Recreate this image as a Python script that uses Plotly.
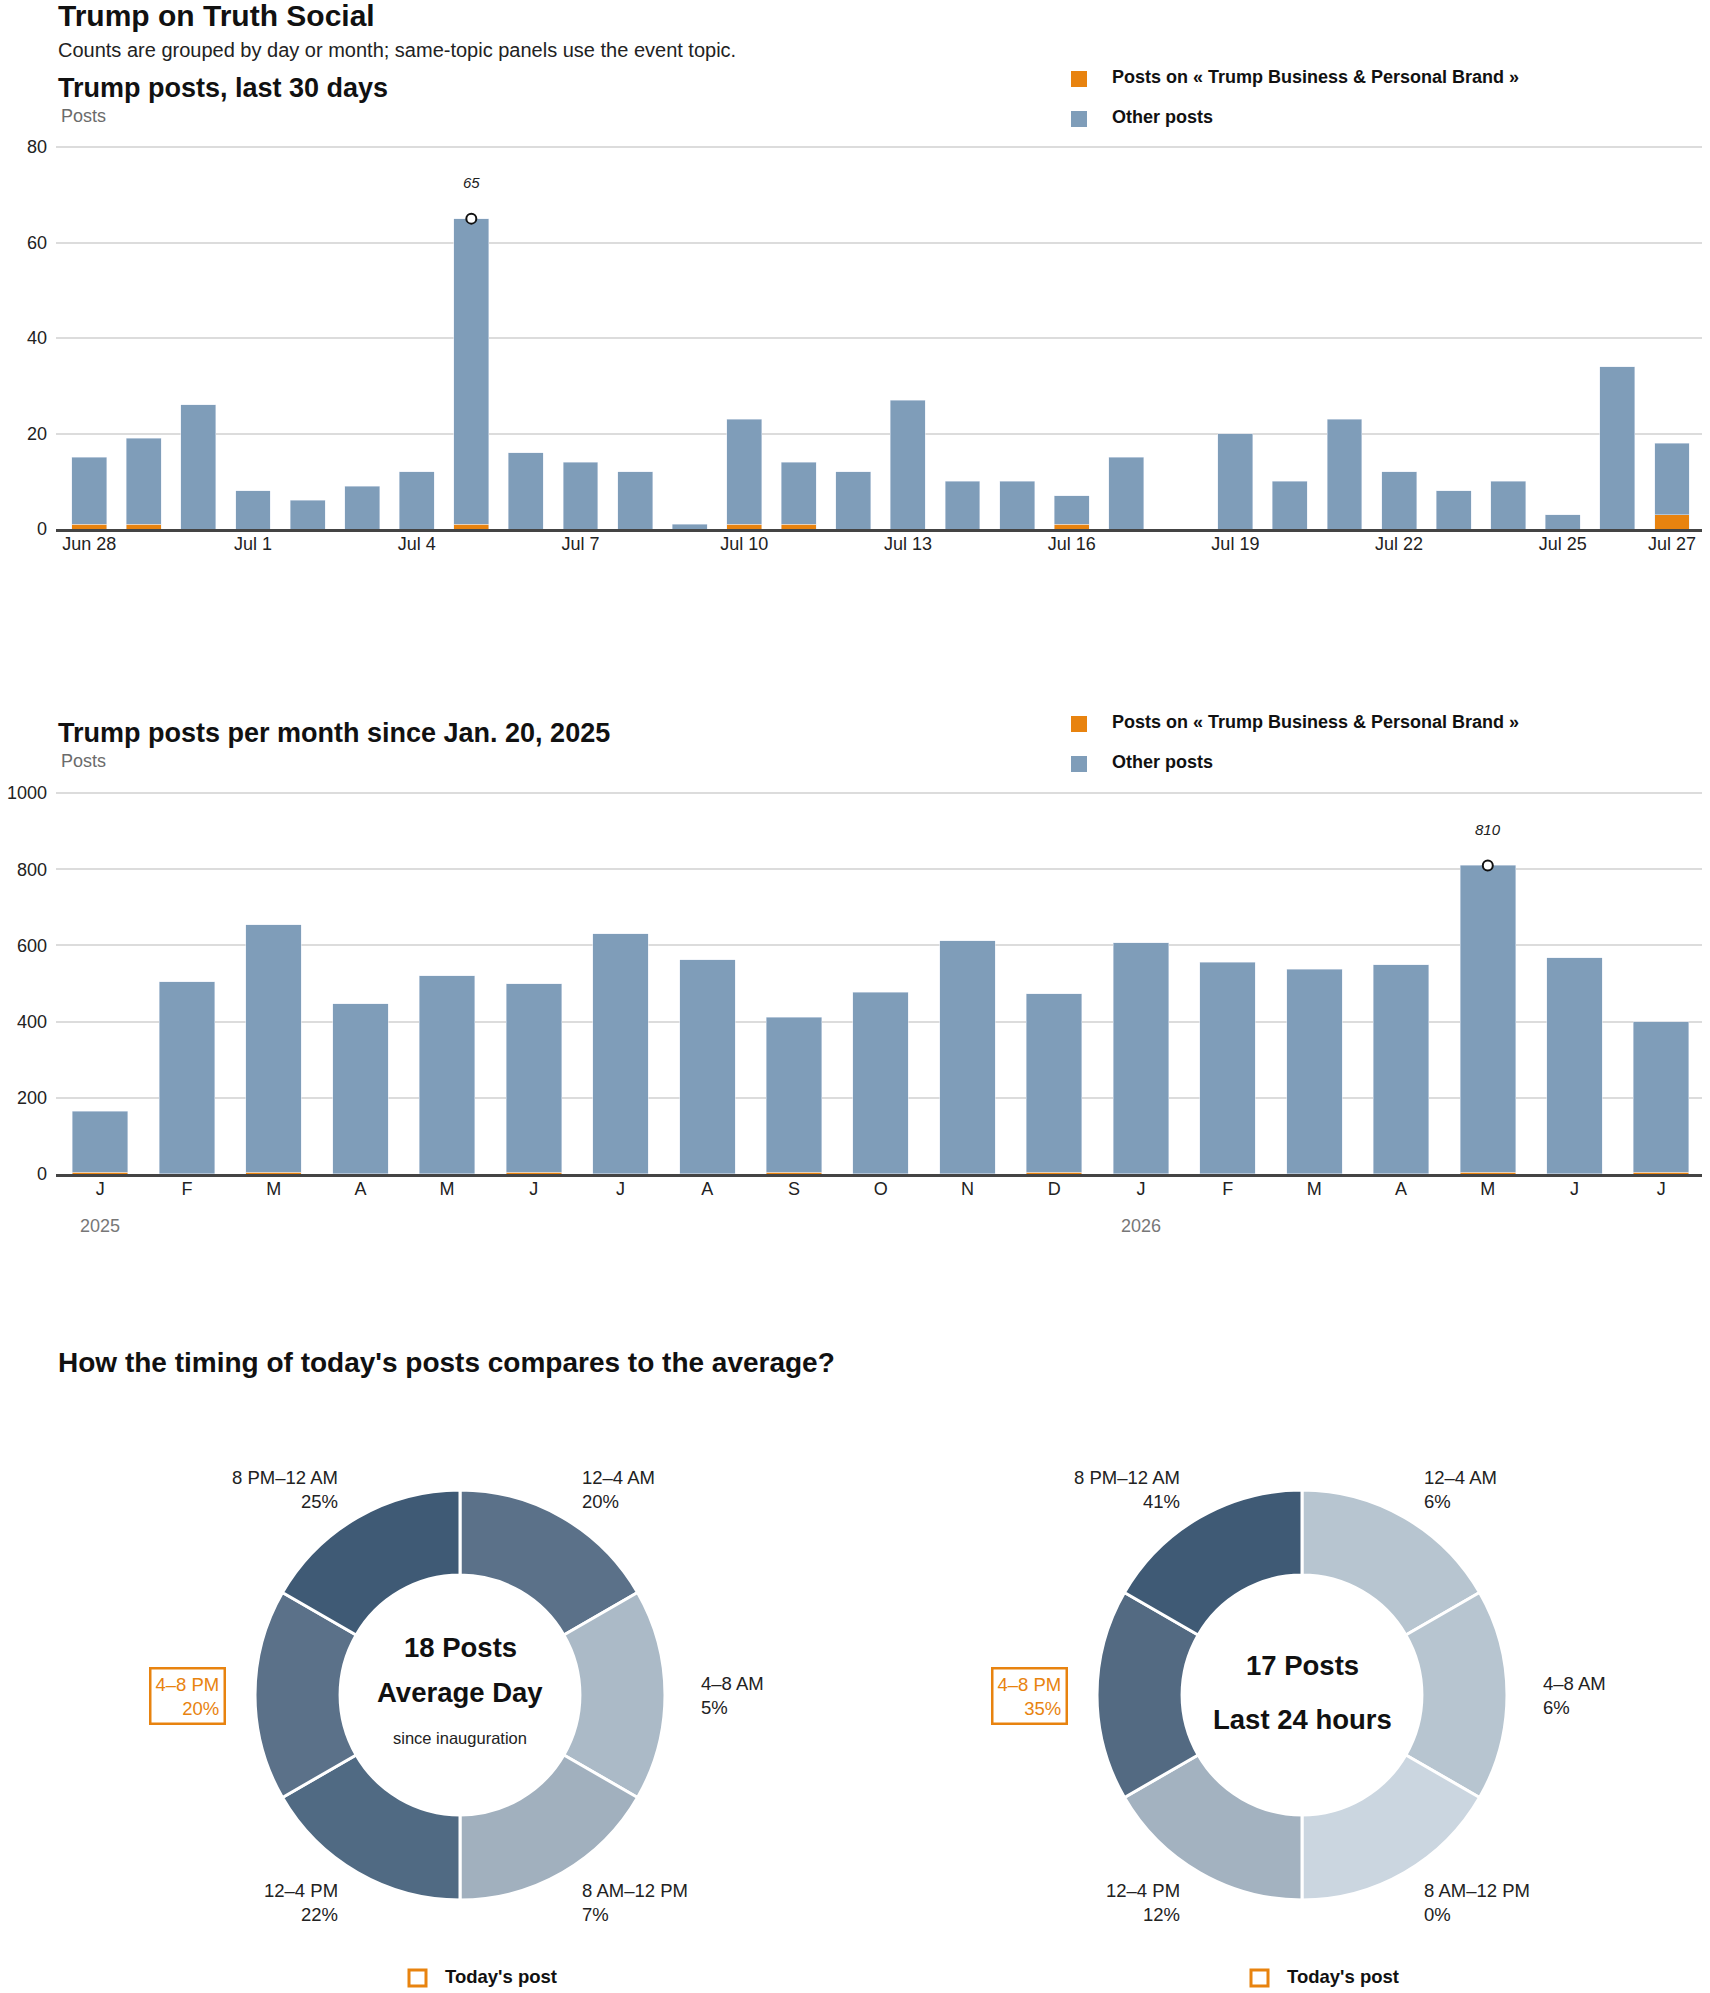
import plotly.graph_objects as go

# page size (px) -- everything below is laid out on this canvas
W, H = 1710, 1993
FONT = "Liberation Sans, Arial, sans-serif"
BLUE = "#7f9db9"
ORANGE = "#e8830f"

# ---- data: last 30 days ----
day_labels = ["Jun 28", "Jun 29", "Jun 30", "Jul 1", "Jul 2", "Jul 3", "Jul 4", "Jul 5",
              "Jul 6", "Jul 7", "Jul 8", "Jul 9", "Jul 10", "Jul 11", "Jul 12", "Jul 13",
              "Jul 14", "Jul 15", "Jul 16", "Jul 17", "Jul 18", "Jul 19", "Jul 20", "Jul 21",
              "Jul 22", "Jul 23", "Jul 24", "Jul 25", "Jul 26", "Jul 27"]
day_total = [15, 19, 26, 8, 6, 9, 12, 65, 16, 14, 12, 1, 23, 14, 12, 27,
             10, 10, 7, 15, 0, 20, 10, 23, 12, 8, 10, 3, 34, 18]
day_brand = [1, 1, 0, 0, 0, 0, 0, 1, 0, 0, 0, 0, 1, 1, 0, 0,
             0, 0, 1, 0, 0, 0, 0, 0, 0, 0, 0, 0, 0, 3]
day_ticks = ["Jun 28", "Jul 1", "Jul 4", "Jul 7", "Jul 10", "Jul 13", "Jul 16",
             "Jul 19", "Jul 22", "Jul 25", "Jul 27"]

# ---- data: posts per month ----
months = ["2025-01", "2025-02", "2025-03", "2025-04", "2025-05", "2025-06", "2025-07",
          "2025-08", "2025-09", "2025-10", "2025-11", "2025-12", "2026-01", "2026-02",
          "2026-03", "2026-04", "2026-05", "2026-06", "2026-07"]
month_letters = ["J", "F", "M", "A", "M", "J", "J", "A", "S", "O", "N", "D",
                 "J", "F", "M", "A", "M", "J", "J"]
month_total = [165, 504, 654, 447, 520, 499, 630, 562, 412, 477, 612, 473,
               607, 556, 538, 549, 810, 567, 399]
month_brand = [4, 1, 4, 1, 1, 4, 1, 1, 4, 1, 1, 4, 1, 1, 1, 1, 4, 1, 4]
year_starts = {"2025": "2025-01", "2026": "2026-01"}

# ---- data: time of day ----
slots = ["12–4 AM", "4–8 AM", "8 AM–12 PM", "12–4 PM", "4–8 PM", "8 PM–12 AM"]
slot_hours = [4, 4, 4, 4, 4, 4]
avg_share = [20, 5, 7, 22, 20, 25]
today_share = [6, 6, 0, 12, 35, 41]
avg_posts = 18
today_posts = 17
today_slot = "4–8 PM"
avg_colors = ["#5b7189", "#abbac7", "#a1b0be", "#506a83", "#5b7189", "#3f5a75"]
today_colors = ["#b7c5d0", "#b7c5d0", "#cbd6e0", "#a3b2c0", "#536a82", "#3f5a75"]

day_other = [t - b for t, b in zip(day_total, day_brand)]
month_other = [t - b for t, b in zip(month_total, month_brand)]


def fx(px):
    return px / W


def fy(py):
    return 1 - py / H


def note(text, x, y, size=18, color="#222", bold=False, xanchor="left", align="left", **kw):
    return dict(text=text, x=fx(x), y=fy(y), xref="paper", yref="paper", showarrow=False,
                xanchor=xanchor, yanchor="middle", align=align,
                font=dict(family=FONT, size=size, color=color,
                          weight="bold" if bold else "normal"), **kw)


fig = go.Figure()

# bar charts
fig.add_trace(go.Bar(x=day_labels, y=day_brand, marker_color=ORANGE, xaxis="x", yaxis="y"))
fig.add_trace(go.Bar(x=day_labels, y=day_other, marker_color=BLUE, xaxis="x", yaxis="y"))
fig.add_trace(go.Bar(x=months, y=month_brand, marker_color=ORANGE, xaxis="x2", yaxis="y2"))
fig.add_trace(go.Bar(x=months, y=month_other, marker_color=BLUE, xaxis="x2", yaxis="y2"))

# peak markers
i_day = day_total.index(max(day_total))
i_mon = month_total.index(max(month_total))
mk = dict(symbol="circle", size=10, color="white", line=dict(color="#111", width=2))
fig.add_trace(go.Scatter(x=[day_labels[i_day]], y=[day_total[i_day]], mode="markers",
                         marker=mk, xaxis="x", yaxis="y"))
fig.add_trace(go.Scatter(x=[months[i_mon]], y=[month_total[i_mon]], mode="markers",
                         marker=mk, xaxis="x2", yaxis="y2"))

# donuts
for cx, shares, colors in [(460, avg_share, avg_colors), (1302, today_share, today_colors)]:
    fig.add_trace(go.Pie(labels=slots, values=slot_hours, customdata=shares, sort=False,
                         direction="clockwise", rotation=0, hole=0.585,
                         textinfo="none", hoverinfo="label",
                         marker=dict(colors=colors, line=dict(color="white", width=3)),
                         domain=dict(x=[fx(cx - 205), fx(cx + 205)],
                                     y=[fy(1900), fy(1490)])))

axis_font = dict(family=FONT, size=18, color="#222")
fig.update_layout(
    width=W, height=H, margin=dict(l=0, r=0, t=0, b=0, autoexpand=False),
    paper_bgcolor="white", plot_bgcolor="white",
    showlegend=False, barmode="stack", bargap=0.36,
    font=dict(family=FONT),
    xaxis=dict(domain=[fx(56), fx(1702)], anchor="y", type="category", automargin=False,
               range=[-0.61, 29.55], tickvals=day_ticks, ticktext=day_ticks,
               showgrid=False, showline=True, linecolor="#444", linewidth=3,
               ticks="", ticklabelstandoff=-4, tickfont=axis_font),
    yaxis=dict(domain=[fy(529), fy(144)], anchor="x", range=[0, 80.63], dtick=20,
               automargin=False, gridcolor="#dcdcdc", gridwidth=1.5, zeroline=False,
               ticks="", ticklabelstandoff=8, tickfont=axis_font),
    xaxis2=dict(domain=[fx(56), fx(1702)], anchor="y2", type="category", automargin=False,
                range=[-0.51, 18.47], tickvals=months, ticktext=month_letters,
                showgrid=False, showline=True, linecolor="#444", linewidth=3,
                ticks="", ticklabelstandoff=-4, tickfont=axis_font),
    yaxis2=dict(domain=[fy(1174), fy(790)], anchor="x2", range=[0, 1007.9], dtick=200,
                automargin=False, gridcolor="#dcdcdc", gridwidth=1.5, zeroline=False,
                ticks="", ticklabelstandoff=8, tickfont=axis_font),
)

ann = [
    note("Trump on Truth Social", 56, 16, size=30, color="#111", bold=True),
    note("Counts are grouped by day or month; same-topic panels use the event topic.",
         56, 50, size=20),
    note("Trump posts, last 30 days", 56, 88, size=27, color="#111", bold=True),
    note("Posts", 59, 116, size=18, color="#6b6b6b"),
    note("Trump posts per month since Jan. 20, 2025", 56, 733, size=27, color="#111", bold=True),
    note("Posts", 59, 761, size=18, color="#6b6b6b"),
    note("How the timing of today's posts compares to the average?", 56, 1362,
         size=28, color="#111", bold=True),
]

shapes = []
# legends for the two bar charts
for dy in (0, 645):
    for oy, col, txt in [(79, ORANGE, "Posts on « Trump Business & Personal Brand »"),
                         (119, BLUE, "Other posts")]:
        shapes.append(dict(type="rect", xref="paper", yref="paper",
                           x0=fx(1071), x1=fx(1087), y0=fy(oy + dy + 8), y1=fy(oy + dy - 8),
                           fillcolor=col, line=dict(width=0)))
        ann.append(note(txt, 1110, oy + dy - 2, size=18, color="#111", bold=True))

# peak labels
ann.append(dict(text=str(day_total[i_day]), x=day_labels[i_day], y=day_total[i_day],
                xref="x", yref="y", showarrow=False, yshift=36,
                font=dict(family=FONT, size=15, color="#222", style="italic")))
ann.append(dict(text=str(month_total[i_mon]), x=months[i_mon], y=month_total[i_mon],
                xref="x2", yref="y2", showarrow=False, yshift=36,
                font=dict(family=FONT, size=15, color="#222", style="italic")))

# year labels under the month axis
for yr, m in year_starts.items():
    ann.append(dict(text=yr, x=m, y=fy(1226), xref="x2", yref="paper", showarrow=False,
                    yanchor="middle", font=dict(family=FONT, size=18, color="#777")))

# donut labels: offset from donut centre, anchor side
label_pos = [(120, -206, "left"), (239, 0, "left"), (120, 207, "left"),
             (-120, 207, "right"), (-120, 0, "right"), (-120, -206, "right")]
donuts = [(460, avg_share, [f"{avg_posts} Posts", "Average Day"], "since inauguration"),
          (1302, today_share, [f"{today_posts} Posts", "Last 24 hours"], None)]
cy = 1695
for cx, shares, heads, sub in donuts:
    for s, sh, (dx, dy, side) in zip(slots, shares, label_pos):
        txt = f"{s}<br>{sh}%"
        if s == today_slot:
            ann.append(note(txt, cx - 234, cy + 1, size=18.5, color=ORANGE, xanchor="right",
                            align="right", bordercolor=ORANGE, borderwidth=2.5, borderpad=4))
        else:
            ann.append(note(txt, cx + dx, cy + dy, size=18.5, xanchor=side, align=side))
    if sub:
        ann.append(note(heads[0], cx, 1647, size=27.5, color="#111", bold=True, xanchor="center"))
        ann.append(note(heads[1], cx, 1692, size=27.5, color="#111", bold=True, xanchor="center"))
        ann.append(note(sub, cx, 1738, size=16.5, xanchor="center"))
    else:
        ann.append(note(heads[0], cx, 1665, size=27.5, color="#111", bold=True, xanchor="center"))
        ann.append(note(heads[1], cx, 1719, size=27.5, color="#111", bold=True, xanchor="center"))
    # "Today's post" key
    kx = cx - 51
    shapes.append(dict(type="rect", xref="paper", yref="paper",
                       x0=fx(kx), x1=fx(kx + 17), y0=fy(1986), y1=fy(1970),
                       fillcolor="white", line=dict(color=ORANGE, width=3)))
    ann.append(note("Today's post", kx + 34, 1976, size=18.5, color="#111", bold=True))

fig.update_layout(annotations=ann, shapes=shapes)

fig.write_html("out.html", config={"displayModeBar": False},
               post_script="document.body.style.margin='0';document.body.style.overflow='hidden';")
